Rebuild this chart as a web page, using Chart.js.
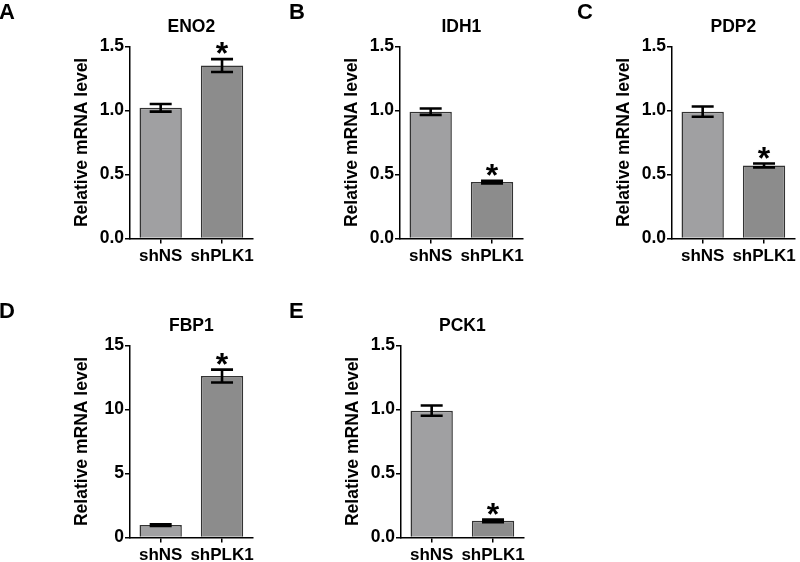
<!DOCTYPE html>
<html>
<head>
<meta charset="utf-8">
<script src="https://cdn.jsdelivr.net/npm/chart.js@4"></script>
<style>
  body { margin: 0; background: #fff; width: 800px; height: 562px; overflow: hidden; position: relative;
         font-family: "Liberation Sans", Arial, sans-serif; }
  canvas { position: absolute; }
  .letter { position: absolute; font-weight: bold; font-size: 22px; line-height: 1; color: #000; }
</style>
</head>
<body>
<script>
// data
const categories = ["shNS", "shPLK1"];
const genes = ["ENO2", "IDH1", "PDP2", "FBP1", "PCK1"];
const letters = ["A", "B", "C", "D", "E"];

const eno2 = [1.02, 1.35];
const eno2Err = [0.03, 0.05];
const idh1 = [0.99, 0.44];
const idh1Err = [0.025, 0.01];
const pdp2 = [0.99, 0.57];
const pdp2Err = [0.04, 0.015];
const fbp1 = [0.97, 12.6];
const fbp1Err = [0.06, 0.5];
const pck1 = [0.99, 0.13];
const pck1Err = [0.04, 0.01];
const starred = [false, true];

const yMax = [1.5, 1.5, 1.5, 15, 1.5];
const yStep = [0.5, 0.5, 0.5, 5, 0.5];
const yDecimals = [1, 1, 1, 0, 1];

const means = [eno2, idh1, pdp2, fbp1, pck1];
const errs = [eno2Err, idh1Err, pdp2Err, fbp1Err, pck1Err];

// layout
const panelPos = [[0, 0], [270, 0], [542, 0], [0, 299], [271, 299]];
const letterPos = [[-1, 1], [289, 1], [577, 1], [-1, 300], [289, 300]];
const barColors = ["#a0a0a2", "#8c8c8c"];
const FONT = "'Liberation Sans', Arial, sans-serif";

Chart.defaults.font.family = FONT;
Chart.defaults.color = "#000";

// draws error bars and significance stars
const errorBars = {
  id: "errorBars",
  afterDatasetsDraw(chart, args, opts) {
    const ctx = chart.ctx;
    const y = chart.scales.y;
    const meta = chart.getDatasetMeta(0);
    meta.data.forEach((bar, i) => {
      const v = chart.data.datasets[0].data[i];
      const e = opts.errs[i];
      const top = y.getPixelForValue(v + e);
      const bot = y.getPixelForValue(v - e);
      ctx.save();
      ctx.strokeStyle = "#000";
      ctx.lineWidth = 2.6;
      ctx.beginPath();
      ctx.moveTo(bar.x, top);
      ctx.lineTo(bar.x, bot);
      ctx.moveTo(bar.x - 11, top);
      ctx.lineTo(bar.x + 11, top);
      ctx.moveTo(bar.x - 11, bot);
      ctx.lineTo(bar.x + 11, bot);
      ctx.stroke();
      if (opts.stars[i]) {
        ctx.font = "bold 32px " + FONT;
        ctx.textAlign = "center";
        ctx.fillStyle = "#000";
        ctx.fillText("*", bar.x, top + 5);
      }
      ctx.restore();
    });
  },
};

genes.forEach((gene, k) => {
  const canvas = document.createElement("canvas");
  canvas.width = 258;
  canvas.height = 263;
  canvas.style.left = panelPos[k][0] + "px";
  canvas.style.top = panelPos[k][1] + "px";
  document.body.appendChild(canvas);

  const letter = document.createElement("div");
  letter.className = "letter";
  letter.textContent = letters[k];
  letter.style.left = letterPos[k][0] + "px";
  letter.style.top = letterPos[k][1] + "px";
  document.body.appendChild(letter);

  new Chart(canvas.getContext("2d"), {
    type: "bar",
    data: {
      labels: categories,
      datasets: [
        {
          data: means[k],
          backgroundColor: barColors,
          borderColor: "#333",
          borderWidth: 1.5,
          barPercentage: 0.69,
          categoryPercentage: 1,
        },
      ],
    },
    plugins: [errorBars],
    options: {
      animation: false,
      responsive: false,
      devicePixelRatio: 1,
      layout: { padding: { left: 71.8, right: 4, top: 17, bottom: 0 } },
      plugins: {
        legend: { display: false },
        tooltip: { enabled: false },
        title: {
          display: true,
          text: gene,
          fullSize: false,
          color: "#000",
          font: { size: 17.5, weight: "bold" },
          padding: { top: 0, bottom: 8.3 },
        },
        errorBars: { errs: errs[k], stars: starred },
      },
      scales: {
        x: {
          afterFit: (s) => { s.height = 24.5; },
          grid: { display: true, drawOnChartArea: false, offset: false, tickLength: 5, color: "#000", lineWidth: 1.5 },
          border: { display: true, color: "#000", width: 1.5 },
          ticks: {
            color: "#000",
            padding: 3,
            autoSkip: false,
            maxRotation: 0,
            minRotation: 0,
            font: { size: 17, weight: "bold" },
          },
        },
        y: {
          min: 0,
          max: yMax[k],
          afterFit: (s) => { s.width = 58.2; },
          grid: { display: true, drawOnChartArea: false, tickLength: 5, color: "#000", lineWidth: 1.5 },
          border: { display: true, color: "#000", width: 1.5 },
          ticks: {
            stepSize: yStep[k],
            padding: 1,
            color: "#000",
            font: { size: 17.5, weight: "bold" },
            callback: (v) => Number(v).toFixed(yDecimals[k]),
          },
          title: {
            display: true,
            text: "Relative mRNA level",
            color: "#000",
            font: { size: 17.5, weight: "bold" },
            padding: { top: 0, bottom: 0 },
          },
        },
      },
    },
  });
});
</script>
</body>
</html>
